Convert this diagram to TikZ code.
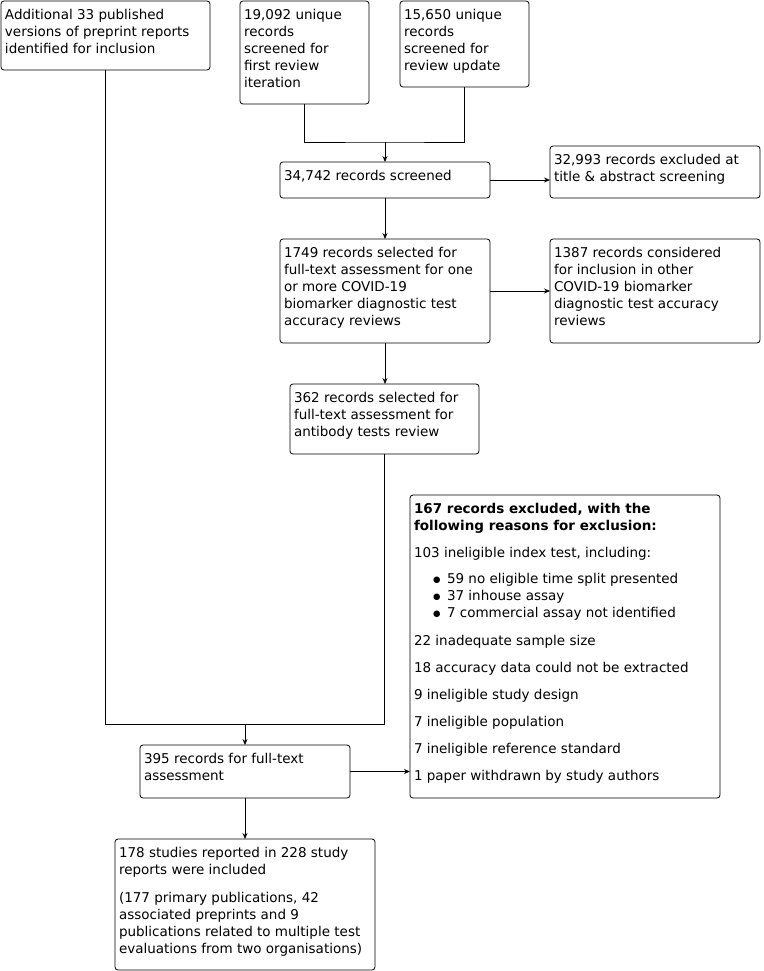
\documentclass[tikz,border=0pt]{standalone}
\usepackage{fontspec}
\setmainfont{DejaVu Sans}
\usetikzlibrary{arrows.meta}

% texto alinhado ao topo dentro de uma caixa de largura/altura dadas (em pt)
\newcommand{\boxtext}[3]{\parbox[c][\dimexpr#2pt-16pt][t]{\dimexpr#1pt-8pt}{\raggedright #3}}
\newcommand{\bulletitem}[1]{\hspace*{19pt}\makebox[14pt][l]{\raisebox{1pt}{\fontsize{8.5}{8.5}\selectfont ●}}#1}

\tikzset{
  flowbox/.style={draw, rounded corners=3pt, anchor=north west, inner xsep=4pt, inner ysep=8pt,
    outer sep=0pt, font=\fontsize{13.5}{17}\selectfont}
}

\begin{document}
\begin{tikzpicture}[x=1pt, y=-1pt, line width=0.8pt, >={Stealth[length=6pt, width=5pt]}]
    \useasboundingbox (0,0) rectangle (763,971);

    % Caixas de entrada
    \node[flowbox] (extra) at (1,1) {\boxtext{209}{69}{Additional 33 published\\versions of preprint reports\\identified for inclusion}};
    \node[flowbox] (first) at (240,1) {\boxtext{129}{103}{19,092 unique\\records\\screened for\\first review\\iteration}};
    \node[flowbox] (update) at (400,1) {\boxtext{129}{86}{15,650 unique\\records\\screened for\\review update}};

    % Triagem
    \node[flowbox] (screened) at (280,162) {\boxtext{210}{36}{34,742 records screened}};
    \node[flowbox] (excl1) at (550,146) {\boxtext{210}{52}{32,993 records excluded at\\title \& abstract screening}};
    \node[flowbox] (selected) at (280,239) {\boxtext{210}{104}{1749 records selected for\\full-text assessment for one\\or more COVID-19\\biomarker diagnostic test\\accuracy reviews}};
    \node[flowbox] (other) at (550,239) {\boxtext{210}{104}{1387 records considered\\for inclusion in other\\COVID-19 biomarker\\diagnostic test accuracy\\reviews}};
    \node[flowbox] (antibody) at (290,384) {\boxtext{189}{70}{362 records selected for\\full-text assessment for\\antibody tests review}};

    % Exclusões do texto completo
    \node[flowbox] (excl2) at (410,495) {\boxtext{310}{303}{\textbf{167 records excluded, with the\\following reasons for exclusion:}\\[10pt]
      103 ineligible index test, including:\\[9pt]
      \bulletitem{59 no eligible time split presented}\\
      \bulletitem{37 inhouse assay}\\
      \bulletitem{7 commercial assay not identified}\\[11pt]
      22 inadequate sample size\\[10pt]
      18 accuracy data could not be extracted\\[10pt]
      9 ineligible study design\\[10pt]
      7 ineligible population\\[10pt]
      7 ineligible reference standard\\[10pt]
      1 paper withdrawn by study authors}};

    % Avaliação e inclusão
    \node[flowbox] (fulltext) at (140,745) {\boxtext{210}{53}{395 records for full-text\\assessment}};
    \node[flowbox] (included) at (115,839) {\boxtext{260}{131}{178 studies reported in 228 study\\reports were included\\[11pt]
      (177 primary publications, 42\\associated preprints and 9\\publications related to multiple test\\evaluations from two organisations)}};

    % Pontos de junção
    \coordinate (join1) at (385,142);
    \coordinate (join2) at (245,724);

    % Conectores
    \draw (first.south) |- (join1) -| (update.south);
    \draw[->] (join1) -- (screened.north);
    \draw[->] (screened.east) -- (screened.east -| excl1.west);
    \draw[->] (screened.south) -- (selected.north);
    \draw[->] (selected.east) -- (other.west);
    \draw[->] (selected.south) -- (selected.south |- antibody.north);
    \draw (antibody.south) |- (join2);
    \draw (extra.south) |- (join2);
    \draw[->] (join2) -- (fulltext.north);
    \draw[->] (fulltext.east) -- (fulltext.east -| excl2.west);
    \draw[->] (fulltext.south) -- (included.north);
\end{tikzpicture}
\end{document}
